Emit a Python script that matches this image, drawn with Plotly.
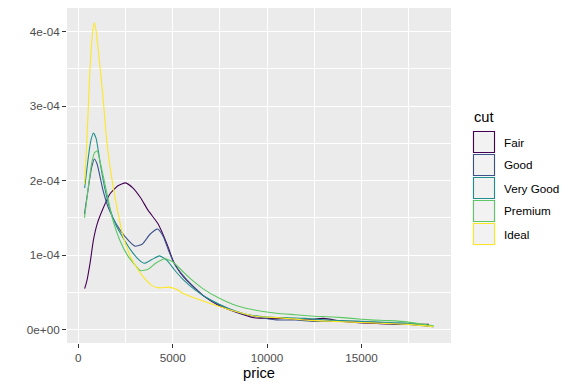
import plotly.graph_objects as go

# ---- data (density in units of 1e-4) ----
cuts = ["Fair", "Good", "Very Good", "Premium", "Ideal"]
colors = ["#440154", "#3B528B", "#21908C", "#5DC863", "#FDE725"]

fair_price = [337, 450, 640, 800, 1000, 1300, 1700, 2100, 2500, 2900, 3300, 3700, 4200, 4500, 4800,
              5030, 5300, 5600, 6000, 6600, 7400, 8400, 9300, 10200, 11000, 12000, 13000, 14000,
              15000, 16000, 17000, 18000, 18574]
fair_density = [0.55, 0.65, 0.92, 1.2, 1.42, 1.62, 1.83, 1.93, 1.97, 1.9, 1.77, 1.6, 1.43, 1.27, 1.08,
                0.92, 0.8, 0.7, 0.6, 0.46, 0.33, 0.23, 0.16, 0.15, 0.15, 0.13, 0.15, 0.11,
                0.09, 0.08, 0.07, 0.07, 0.07]

good_price = [327, 500, 700, 850, 1000, 1300, 1600, 2000, 2500, 3000, 3400, 3800, 4200, 4500, 4800,
              5100, 5500, 6000, 6600, 7500, 8500, 9500, 10500, 11500, 12500, 13500, 14500, 15500,
              16500, 17500, 18788]
good_density = [1.55, 1.85, 2.17, 2.29, 2.22, 1.88, 1.63, 1.42, 1.24, 1.12, 1.15, 1.28, 1.35, 1.25, 1.05,
                0.88, 0.74, 0.6, 0.46, 0.33, 0.23, 0.17, 0.13, 0.13, 0.11, 0.11, 0.11, 0.1,
                0.08, 0.07, 0.04]

vgood_price = [336, 500, 650, 800, 950, 1150, 1400, 1700, 2000, 2400, 2800, 3200, 3500, 3900, 4300,
               4700, 5100, 5600, 6200, 7000, 8000, 9000, 10000, 11000, 12000, 13000, 14000, 15000,
               16000, 17000, 18000, 18818]
vgood_density = [1.9, 2.25, 2.52, 2.64, 2.56, 2.25, 1.9, 1.6, 1.4, 1.22, 1.06, 0.94, 0.89, 0.94, 0.99,
                 0.93, 0.8, 0.66, 0.53, 0.4, 0.28, 0.2, 0.17, 0.16, 0.15, 0.13, 0.12, 0.11,
                 0.1, 0.09, 0.07, 0.04]

premium_price = [326, 500, 700, 850, 1000, 1200, 1500, 1800, 2200, 2600, 3000, 3300, 3700, 4100, 4600,
                 5000, 5500, 6000, 6600, 7400, 8400, 9400, 10500, 11500, 12500, 13500, 14500, 15500,
                 16500, 17500, 18823]
premium_density = [1.5, 1.85, 2.22, 2.37, 2.4, 2.2, 1.85, 1.5, 1.2, 1.0, 0.87, 0.79, 0.81, 0.89, 0.95,
                   0.91, 0.79, 0.67, 0.55, 0.43, 0.32, 0.26, 0.22, 0.2, 0.18, 0.17, 0.15, 0.13,
                   0.12, 0.1, 0.05]

ideal_price = [326, 450, 600, 750, 850, 950, 1100, 1300, 1500, 1700, 2000, 2400, 2800, 3200, 3500,
               3900, 4300, 4800, 5200, 5600, 6200, 7000, 7600, 8400, 9400, 10500, 11500, 12500,
               13500, 14500, 15500, 16500, 17500, 18806]
ideal_density = [1.95, 2.5, 3.4, 3.97, 4.12, 4.0, 3.65, 3.15, 2.55, 2.15, 1.7, 1.23, 0.96, 0.79, 0.69,
                 0.59, 0.56, 0.57, 0.54, 0.48, 0.42, 0.35, 0.3, 0.24, 0.18, 0.16, 0.14, 0.12,
                 0.11, 0.1, 0.09, 0.08, 0.07, 0.04]

series = [
    (fair_price, fair_density),
    (good_price, good_density),
    (vgood_price, vgood_density),
    (premium_price, premium_density),
    (ideal_price, ideal_density),
]

x_ticks = [0, 5000, 10000, 15000]
x_tick_labels = ["0", "5000", "10000", "15000"]
y_ticks = [0, 1e-4, 2e-4, 3e-4, 4e-4]
y_tick_labels = ["0e+00", "1e-04", "2e-04", "3e-04", "4e-04"]

SCALE = 1e-4

fig = go.Figure()
for name, col, (px_, dens) in zip(cuts, colors, series):
    fig.add_trace(go.Scatter(
        x=px_, y=[d * SCALE for d in dens], mode="lines", name=name,
        line=dict(color=col, width=1.1, shape="spline", smoothing=0.5),
        showlegend=False,
    ))

OFF = 8  # page body margin offset
W, H = 574 - OFF, 388 - OFF
L, R, T, B = 67 - OFF, 451 - OFF, 0, 343 - OFF
font_main = "Arial, Liberation Sans, sans-serif"

fig.update_layout(
    width=W, height=H,
    margin=dict(l=L, r=W - R, t=T, b=H - B, pad=0),
    paper_bgcolor="white", plot_bgcolor="#EBEBEB",
    font=dict(family=font_main, color="#4D4D4D", size=12),
    xaxis=dict(
        range=[-599, 19748], tickvals=x_ticks, ticktext=x_tick_labels,
        showgrid=True, gridcolor="white", gridwidth=1.07, zeroline=False,
        ticks="outside", ticklen=4, tickwidth=1, tickcolor="#333333",
        tickfont=dict(size=11.7, color="#4D4D4D"),
        minor=dict(dtick=2500, tick0=2500, showgrid=True, gridcolor="white", gridwidth=0.53, ticks=""),
        title=dict(text="price", font=dict(size=14.7, color="black"), standoff=4),
        showline=False,
    ),
    yaxis=dict(
        range=[-0.18e-4, 4.317e-4], tickvals=y_ticks, ticktext=y_tick_labels,
        showgrid=True, gridcolor="white", gridwidth=1.07, zeroline=False,
        ticks="outside", ticklen=4, tickwidth=1, tickcolor="#333333",
        tickfont=dict(size=11.7, color="#4D4D4D"),
        minor=dict(dtick=0.5e-4, tick0=0.5e-4, showgrid=True, gridcolor="white", gridwidth=0.53, ticks=""),
        showline=False,
    ),
)

# ---- manual ggplot-style legend (positions in page pixels) ----
def fx(p):
    p -= OFF
    return (p - L) / (R - L)

def fy(p):
    p -= OFF
    return (B - p) / (B - T)

shapes = []
annotations = [dict(text="cut", x=fx(472), y=fy(117), xref="paper", yref="paper",
                    xanchor="left", yanchor="middle", showarrow=False,
                    font=dict(size=14.7, color="black", family=font_main))]
row_centers = [142, 165, 188, 211, 234]
for name, col, cy in zip(cuts, colors, row_centers):
    shapes.append(dict(type="rect", xref="paper", yref="paper",
                       x0=fx(472.5), x1=fx(495.5), y0=fy(cy + 11.5), y1=fy(cy - 11.5),
                       fillcolor="#F2F2F2", line=dict(width=0)))
    shapes.append(dict(type="rect", xref="paper", yref="paper",
                       x0=fx(473.5), x1=fx(494.5), y0=fy(cy + 10.5), y1=fy(cy - 10.5),
                       fillcolor="rgba(0,0,0,0)", line=dict(color=col, width=1.1)))
    annotations.append(dict(text=name, x=fx(502), y=fy(cy), xref="paper", yref="paper",
                            xanchor="left", yanchor="middle", showarrow=False,
                            font=dict(size=11.7, color="black", family=font_main)))

fig.update_layout(shapes=shapes, annotations=annotations)

fig.write_html("out.html")
